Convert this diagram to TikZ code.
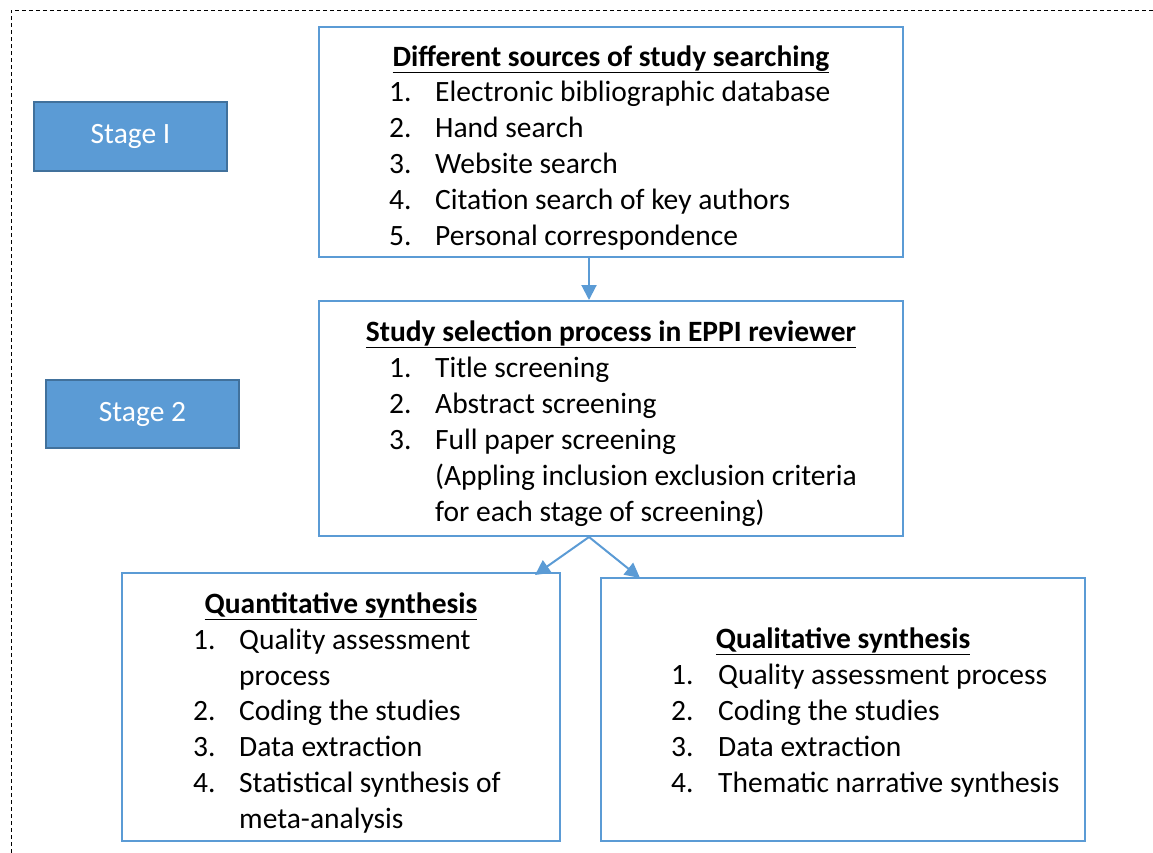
\documentclass[tikz,border=0pt]{standalone}
\usepackage{fontspec}
\setmainfont{Carlito}
\usetikzlibrary{arrows.meta}
\definecolor{boxblue}{HTML}{5B9BD5}
\definecolor{stageedge}{HTML}{41719C}
\tikzset{
  frame/.style={draw=boxblue, line width=2pt, inner sep=0pt},
  stagebox/.style={draw=stageedge, fill=boxblue, line width=1.5pt, text=white, font=\fontsize{29.5}{34}\selectfont, inner sep=0pt},
  txt/.style={anchor=base west, inner sep=0pt, font=\fontsize{29.5}{34}\selectfont},
  ttl/.style={anchor=base, inner sep=0pt, font=\fontsize{29.5}{34}\selectfont\bfseries},
  conn/.style={draw=boxblue, line width=2pt, -{Triangle[length=15pt,width=15pt]}},
}
\begin{document}
\begin{tikzpicture}[x=1pt,y=-1pt]
\useasboundingbox (0,0) rectangle (1153,852);
\draw[line width=1pt, dash pattern=on 4pt off 3pt] (11,860) -- (11,10) -- (1160,10);
% stage boxes
\node[stagebox, minimum width=193pt, minimum height=69pt] (s1) at (130.5,136.5) {Stage I};
\node[stagebox, minimum width=193pt, minimum height=68pt] (s2) at (142.5,414) {Stage 2};
% main boxes
\node[frame, minimum width=584pt, minimum height=230pt] (b1) at (611,142) {};
\node[frame, minimum width=584pt, minimum height=235pt] (b2) at (611,418.5) {};
\node[frame, minimum width=438pt, minimum height=268pt] (b3) at (341,707) {};
\node[frame, minimum width=484pt, minimum height=263pt] (b4) at (843,709.5) {};
% box 1 text
\node[ttl] (t1) at (611,66) {\underline{Different sources of study searching}};
\node[txt] (n11) at (389,101) {1.};\node[txt] (i11) at (435,101) {Electronic bibliographic database};
\node[txt] (n12) at (389,137) {2.};\node[txt] (i12) at (435,137) {Hand search};
\node[txt] (n13) at (389,173) {3.};\node[txt] (i13) at (435,173) {Website search};
\node[txt] (n14) at (389,209) {4.};\node[txt] (i14) at (435,209) {Citation search of key authors};
\node[txt] (n15) at (389,245) {5.};\node[txt] (i15) at (435,245) {Personal correspondence};
% box 2 text
\node[ttl] (t2) at (611,341) {\underline{Study selection process in EPPI reviewer}};
\node[txt] (n21) at (389,377) {1.};\node[txt] (i21) at (435,377) {Title screening};
\node[txt] (n22) at (389,413) {2.};\node[txt] (i22) at (435,413) {Abstract screening};
\node[txt] (n23) at (389,449) {3.};\node[txt] (i23) at (435,449) {Full paper screening};
\node[txt] (i24) at (435,485) {(Appling inclusion exclusion criteria};
\node[txt] (i25) at (435,521) {for each stage of screening)};
% box 3 text
\node[ttl] (t3) at (341,613) {\underline{Quantitative synthesis}};
\node[txt] (n31) at (193,649) {1.};\node[txt] (i31) at (239,649) {Quality assessment};
\node[txt] (i32) at (239,685) {process};
\node[txt] (n33) at (193,720) {2.};\node[txt] (i33) at (239,720) {Coding the studies};
\node[txt] (n34) at (193,756) {3.};\node[txt] (i34) at (239,756) {Data extraction};
\node[txt] (n35) at (193,792) {4.};\node[txt] (i35) at (239,792) {Statistical synthesis of};
\node[txt] (i36) at (239,828) {meta-analysis};
% box 4 text
\node[ttl] (t4) at (843,648) {\underline{Qualitative synthesis}};
\node[txt] (n41) at (671,684) {1.};\node[txt] (i41) at (718,684) {Quality assessment process};
\node[txt] (n42) at (671,720) {2.};\node[txt] (i42) at (718,720) {Coding the studies};
\node[txt] (n43) at (671,756) {3.};\node[txt] (i43) at (718,756) {Data extraction};
\node[txt] (n44) at (671,792) {4.};\node[txt] (i44) at (718,792) {Thematic narrative synthesis};
% connectors
\coordinate (a1) at (b1.south -| 589,0);
\coordinate (a2) at (b2.south -| 589,0);
\draw[conn] (a1) -- (b2.north -| a1);
\draw[conn] (a2) -- (535,575);
\draw[conn] (a2) -- (640,578);
\end{tikzpicture}
\end{document}
